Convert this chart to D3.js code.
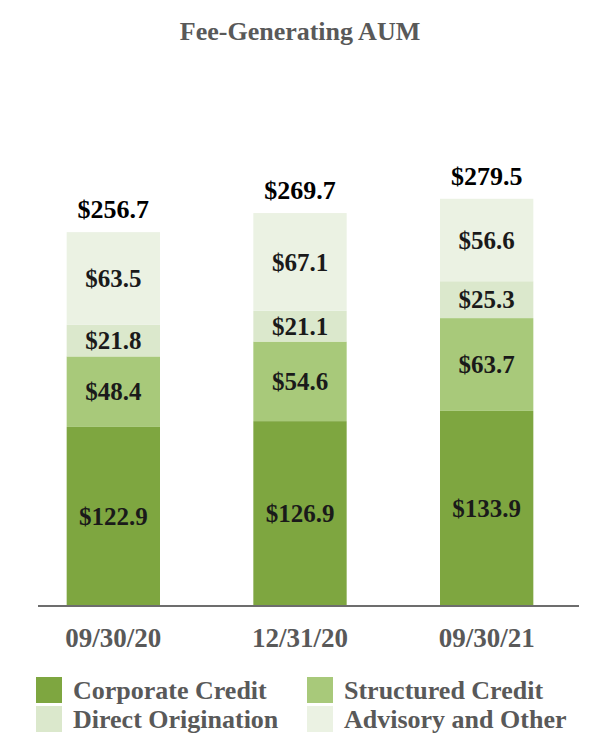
<!DOCTYPE html>
<html><head><meta charset="utf-8">
<script src="https://cdn.jsdelivr.net/npm/d3@7"></script>
<style>body{margin:0;background:#fff}svg{display:block}text{font-family:"Liberation Serif","Times New Roman",serif;font-weight:bold}</style>
</head><body><svg id="c" width="600" height="750"></svg>
<script>
const categories = ["09/30/20", "12/31/20", "09/30/21"];
const seriesNames = ["Corporate Credit", "Structured Credit", "Direct Origination", "Advisory and Other"];
const corporateCredit = [122.9, 126.9, 133.9];
const structuredCredit = [48.4, 54.6, 63.7];
const directOrigination = [21.8, 21.1, 25.3];
const advisoryOther = [63.5, 67.1, 56.6];
const totals = [256.7, 269.7, 279.5];
const colors = ["#7ea640", "#a8c97a", "#dbe8cc", "#ebf2e3"];

const svg = d3.select("#c");
const seriesVals = [corporateCredit, structuredCredit, directOrigination, advisoryOther];
const rows = categories.map((c, i) => {
  const r = {cat: c};
  seriesNames.forEach((s, k) => r[s] = seriesVals[k][i]);
  return r;
});
const stack = d3.stack().keys(seriesNames)(rows);

const x = d3.scaleBand().domain(categories).range([20, 580]).paddingInner(0.5).paddingOuter(0.25);
const y = d3.scaleLinear().domain([0, 256.7]).range([606, 232]);

svg.append("text").attr("x", 300).attr("y", 40).attr("text-anchor", "middle")
  .attr("fill", "#595959").style("font-size", "26px").text("Fee-Generating AUM");

const g = svg.append("g");
stack.forEach((layer, k) => {
  g.selectAll(null).data(layer).enter().append("rect")
    .attr("x", d => x(d.data.cat)).attr("width", x.bandwidth())
    .attr("y", d => y(d[1])).attr("height", d => y(d[0]) - y(d[1]))
    .attr("fill", colors[k]);
  g.selectAll(null).data(layer).enter().append("text")
    .attr("x", d => x(d.data.cat) + x.bandwidth() / 2)
    .attr("y", d => (y(d[0]) + y(d[1])) / 2).attr("dy", "0.35em")
    .attr("text-anchor", "middle").attr("fill", "#1a1a1a").style("font-size", "25px")
    .text(d => "$" + d3.format(".1f")(d[1] - d[0]));
});

svg.selectAll(null).data(categories).enter().append("text")
  .attr("x", d => x(d) + x.bandwidth() / 2)
  .attr("y", (d, i) => y(totals[i]) - 14)
  .attr("text-anchor", "middle").attr("fill", "#000").style("font-size", "26px")
  .text((d, i) => "$" + d3.format(".1f")(totals[i]));

const axis = svg.append("g").attr("transform", "translate(0,606)")
  .call(d3.axisBottom(x).tickSize(0));
axis.select(".domain").attr("d", "M38,0H579").attr("stroke", "#6d6d6d").attr("stroke-width", 2);
axis.selectAll(".tick text").attr("y", 41).attr("dy", null).attr("fill", "#595959").style("font-size", "27px")
  .style("font-family", "'Liberation Serif',serif").style("font-weight", "bold");

const legPos = [[36, 677], [307, 677], [36, 706], [307, 706]];
seriesNames.forEach((s, k) => {
  const [lx, ly] = legPos[k];
  svg.append("rect").attr("x", lx).attr("y", ly).attr("width", 26).attr("height", 26).attr("fill", colors[k]);
  svg.append("text").attr("x", lx + 37).attr("y", ly + 22).attr("fill", "#595959")
    .style("font-size", "26px").text(s);
});
</script></body></html>
